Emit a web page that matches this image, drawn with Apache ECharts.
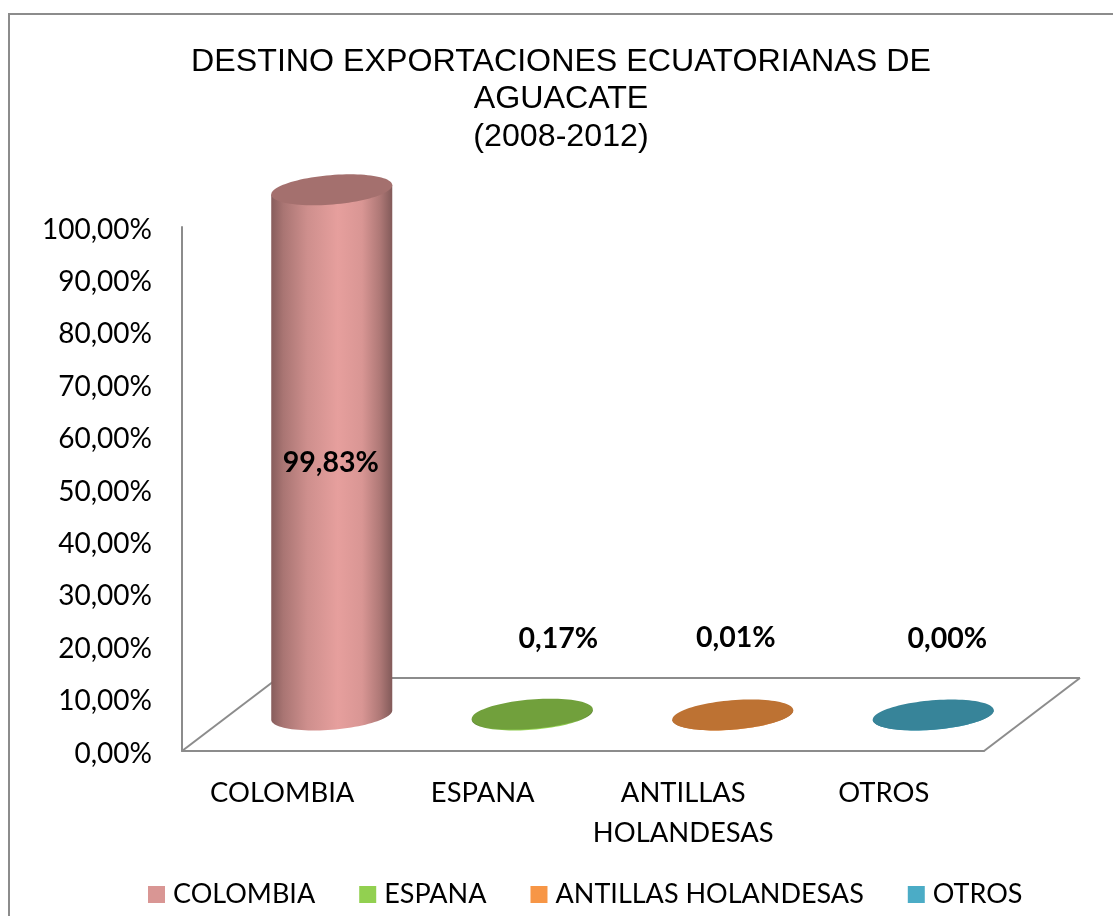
<!DOCTYPE html>
<html><head><meta charset="utf-8">
<script src="https://cdn.jsdelivr.net/npm/echarts@6/dist/echarts.min.js"></script>
<style>html,body{margin:0;padding:0;background:#fff;overflow:hidden}#c{width:1113px;height:916px}</style>
</head><body><div id="c"></div>
<script>
const categories = ['COLOMBIA', 'ESPANA', 'ANTILLAS HOLANDESAS', 'OTROS'];
const axisLabels = ['COLOMBIA', 'ESPANA', 'ANTILLAS\nHOLANDESAS', 'OTROS'];
const values = [99.83, 0.17, 0.01, 0.00];
const valueLabels = ['99,83%', '0,17%', '0,01%', '0,00%'];
const baseColors = ['#d99694', '#92d050', '#f79646', '#4bacc6'];
const capColors = ['#a4706e', '#71a03c', '#bd7233', '#378499'];
const titleText = 'DESTINO EXPORTACIONES ECUATORIANAS DE\nAGUACATE\n(2008-2012)';

const depth = {x: 96, y: -73};
const barShift = {x: 49.5, y: -36};
const perspective = 1.004;
const labelShift = [[0, 9], [27, -76], [4, -77], [15, -76]];
const ell = {a: 60.7, b: 14.7, th: 4.7 * Math.PI / 180};
const FONT = 'Lato';
const GRAY = '#8c8c8c';

function ellPoint(cx, cy, t) {
  const c = Math.cos(ell.th), s = Math.sin(ell.th);
  return [cx + ell.a * Math.cos(t) * c + ell.b * Math.sin(t) * s,
          cy - ell.a * Math.cos(t) * s + ell.b * Math.sin(t) * c];
}
function shade(hex, f) {
  const n = parseInt(hex.slice(1), 16);
  const ch = [n >> 16 & 255, n >> 8 & 255, n & 255].map(v => Math.min(255, Math.round(v * f)));
  return 'rgb(' + ch.join(',') + ')';
}
function renderCylinder(i) {
  return function (params, api) {
    const base = api.coord([api.value(0), 0]);
    const top = api.coord([api.value(0), api.value(1)]);
    const mid = api.coord([api.value(0), api.value(1) / 2]);
    const bx = base[0] + barShift.x, by = base[1] + barShift.y;
    const ty = by - (base[1] - top[1]) * perspective;
    const t0 = Math.atan2(ell.b * Math.sin(ell.th), ell.a * Math.cos(ell.th));
    const steps = 48, pts = [];
    for (let k = 0; k <= steps; k++) pts.push(ellPoint(bx, by, t0 + Math.PI * k / steps));
    const capPts = [];
    for (let k = 0; k < 96; k++) capPts.push(ellPoint(bx, ty, 2 * Math.PI * k / 96));
    const first = pts[0], last = pts[steps];
    const body = pts.concat([[last[0], last[1] - (by - ty)], [first[0], first[1] - (by - ty)]]);
    const c = baseColors[i];
    const grad = new echarts.graphic.LinearGradient(0, 0, 1, 0, [
      {offset: 0, color: shade(c, 0.62)}, {offset: 0.1, color: shade(c, 0.78)},
      {offset: 0.3, color: shade(c, 0.95)}, {offset: 0.55, color: shade(c, 1.06)},
      {offset: 0.75, color: shade(c, 1.0)}, {offset: 0.9, color: shade(c, 0.8)},
      {offset: 1, color: shade(c, 0.6)}
    ]);
    const lx = bx + labelShift[i][0] - 1;
    const ly = (i === 0 ? mid[1] + barShift.y : by) + labelShift[i][1];
    return {type: 'group', children: [
      {type: 'polygon', shape: {points: body}, style: {fill: grad}},
      {type: 'polygon', shape: {points: capPts}, style: {fill: capColors[i]}},
      {type: 'text', x: lx, y: ly, z2: 10, style: {text: valueLabels[i], fill: '#000',
        font: 'bold 28.5px ' + FONT, align: 'center', verticalAlign: 'middle'}}
    ]};
  };
}
function renderFloor(params, api) {
  const cs = params.coordSys;
  const l = cs.x, b = cs.y + cs.height, r = cs.x + cs.width;
  const line = (x1, y1, x2, y2) => ({type: 'line', shape: {x1, y1, x2, y2},
    style: {stroke: GRAY, lineWidth: 2}});
  return {type: 'group', children: [
    line(l, b, l + depth.x, b + depth.y),
    line(l + depth.x, b + depth.y, r + depth.x, b + depth.y),
    line(r + depth.x, b + depth.y, r, b)
  ]};
}
const series = [{type: 'custom', name: '_floor', silent: true, z: 1, data: [[0, 0]],
  encode: {x: 0, y: 1}, renderItem: renderFloor}];
categories.forEach((name, i) => series.push({
  type: 'custom', name, z: 2, itemStyle: {color: baseColors[i]},
  data: [[i, values[i]]], encode: {x: 0, y: 1}, renderItem: renderCylinder(i)
}));

const chart = echarts.init(document.getElementById('c'), null, {renderer: 'canvas'});
chart.setOption({
  animation: false,
  backgroundColor: '#fff',
  title: {text: titleText, left: 561, top: 43, padding: 0, textAlign: 'center',
    textStyle: {fontFamily: 'Liberation Sans', fontWeight: 'normal', fontSize: 32.2, lineHeight: 37.5, color: '#000'}},
  legend: {data: categories, left: 148, top: 881, padding: 0, icon: 'rect', itemWidth: 17, itemHeight: 17,
    itemGap: 44, textStyle: {fontFamily: FONT, fontSize: 27, color: '#000', padding: [0, 0, 0, 3]}},
  grid: {left: 182, top: 227, width: 802, height: 524},
  xAxis: {type: 'category', data: axisLabels, boundaryGap: true,
    axisLine: {lineStyle: {color: GRAY, width: 2}}, axisTick: {show: false}, splitLine: {show: false},
    axisLabel: {interval: 0, margin: 22, color: '#000', fontFamily: FONT, fontSize: 27.4, lineHeight: 40}},
  yAxis: {type: 'value', min: 0, max: 100, interval: 10,
    axisLine: {show: true, lineStyle: {color: GRAY, width: 2}}, axisTick: {show: false}, splitLine: {show: false},
    axisLabel: {margin: 30, color: '#000', fontFamily: FONT, fontSize: 28,
      rich: {t: {fontFamily: FONT, fontSize: 28, color: '#000', padding: [5, 0, 0, 0]}},
      formatter: v => '{t|' + v.toFixed(2).replace('.', ',') + '%}'}},
  graphic: [{type: 'polyline', silent: true, z: 0,
    shape: {points: [[9, 916], [9, 14], [1113, 14]]},
    style: {stroke: GRAY, lineWidth: 2, fill: null}}],
  series
});
</script></body></html>
